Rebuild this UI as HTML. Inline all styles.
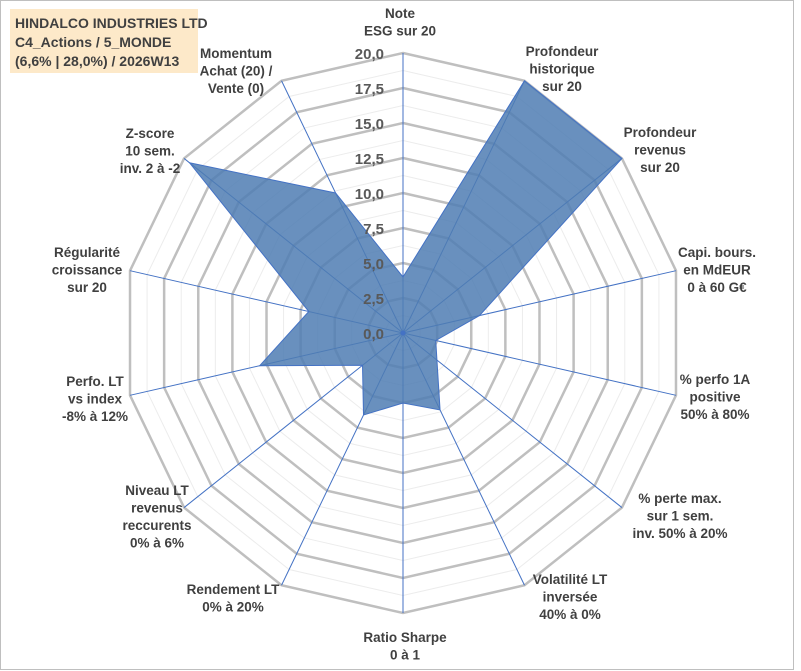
<!DOCTYPE html>
<html><head><meta charset="utf-8"><style>
body{margin:0;background:#fff;}
svg{display:block;font-family:"Liberation Sans",Arial,sans-serif;}
.lbl{font-weight:bold;font-size:13.5px;fill:#404040;text-anchor:middle;}
.tick{font-weight:bold;font-size:15px;fill:#595959;text-anchor:end;}
.ttl{font-weight:bold;font-size:14px;fill:#404040;}
</style></head><body>
<svg id="chart" width="801" height="671">
<rect x="0.5" y="0.5" width="793" height="669" fill="#fff" stroke="#bfbfbf"/>
<rect x="10" y="9" width="188" height="64" fill="#fde9c9"/>
<text x="15" y="28" class="ttl">HINDALCO INDUSTRIES LTD</text>
<text x="15" y="47" class="ttl">C4_Actions / 5_MONDE</text>
<text x="15" y="66" class="ttl">(6,6% | 28,0%) / 2026W13</text>
<g id="grid"></g><g id="axes"></g><g id="series"></g><g id="ticks"></g><g id="labels"></g>
</svg>
<script>
const categories=["Note|ESG sur 20","Profondeur|historique|sur 20","Profondeur|revenus|sur 20","Capi. bours.|en MdEUR|0 à 60 G€","% perfo 1A|positive|50% à 80%","% perte max.|sur 1 sem.|inv. 50% à 20%","Volatilité LT|inversée|40% à 0%","Ratio Sharpe|0 à 1","Rendement LT|0% à 20%","Niveau LT|revenus|reccurents|0% à 6%","Perfo. LT|vs index|-8% à 12%","Régularité|croissance|sur 20","Z-score|10 sem.|inv. 2 à -2","Momentum|Achat (20) /|Vente (0)"];
const values=[4.0,20,20,5.6,2.4,3.1,6.1,5.0,6.5,3.7,10.5,6.9,19.5,11.1];
const tickLabels=["0,0","2,5","5,0","7,5","10,0","12,5","15,0","17,5","20,0"];
const maxVal=20;
const cx=403,cy=333,R=280,N=categories.length;
const NS="http://www.w3.org/2000/svg";
function rr(v){return v/maxVal*R;}
function pt(i,v){const a=i*2*Math.PI/N;return [cx+rr(v)*Math.sin(a),cy-rr(v)*Math.cos(a)];}
function mk(tag,attrs,parent){const e=document.createElementNS(NS,tag);for(const k in attrs)e.setAttribute(k,attrs[k]);parent.appendChild(e);return e;}
const grid=document.getElementById('grid');
for(let s=1;s<=16;s++){const v=s*1.25;const major=s%2===0;
 const p=categories.map((c,i)=>pt(i,v).join(',')).join(' ');
 const g=mk('polygon',{points:p,fill:'none',stroke:major?'#bfbfbf':'#ececec','stroke-width':major?2.5:1},grid);
 
 }
const axes=document.getElementById('axes');
categories.forEach((c,i)=>{const [x,y]=pt(i,maxVal);
 const l=mk('line',{x1:cx,y1:cy,x2:x,y2:y,stroke:'#4472c4','stroke-width':1},axes);
 
 });
const series=document.getElementById('series');
const poly=mk('polygon',{points:values.map((v,i)=>pt(i,v).join(',')).join(' '),fill:'#4f7db3','fill-opacity':0.85,stroke:'#4472c4','stroke-width':1},series);


mk('circle',{cx:cx,cy:cy,r:2.5,fill:'#4472c4'},series);
const ticks=document.getElementById('ticks');
tickLabels.forEach((t,k)=>{const y=cy-rr(k*2.5)+6;
 const e=mk('text',{x:384,y:y,class:'tick'},ticks);e.textContent=t;
 
 });
const labelPos=[[400,18],[562,56],[660,137],[717,257],[715,384],[680,503],[570,584],[405,642],[233,594],[157,495],[95,386],[87,257],[150,138],[236,58]];
const labels=document.getElementById('labels');
categories.forEach((c,i)=>{const g=mk('text',{class:'lbl'},labels);
 
 
 c.split('|').forEach((ln,j)=>{const ts=mk('tspan',{x:labelPos[i][0],y:labelPos[i][1]+j*17.5},g);ts.textContent=ln;});});
</script>
</body></html>
